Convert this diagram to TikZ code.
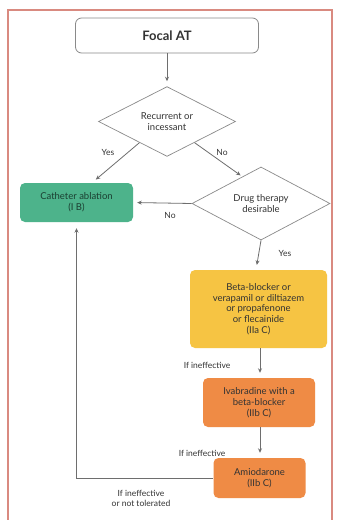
\documentclass[tikz,border=0pt]{standalone}
\usepackage{fontspec}
\setmainfont{Lato}
\usetikzlibrary{shapes.geometric,arrows.meta,calc}
\definecolor{frame}{HTML}{D98A80}
\definecolor{lineg}{HTML}{6E6E6E}
\definecolor{boxg}{HTML}{8A8A8A}
\definecolor{green}{HTML}{4DB38B}
\definecolor{yellow}{HTML}{F6C443}
\definecolor{orange}{HTML}{EF8B45}
\definecolor{ink}{HTML}{333333}
\begin{document}
\begin{tikzpicture}[x=1pt,y=-1pt,
  every node/.style={font=\fontsize{9.5}{10.8}\selectfont, text=ink, align=center},
  startbox/.style={draw=boxg, line width=0.8pt, rounded corners=6pt, fill=white,
    minimum width=183pt, minimum height=35pt, inner sep=0pt,
    font=\fontsize{13}{15}\selectfont\bfseries},
  decision/.style={diamond, draw=boxg, line width=0.7pt, fill=white, inner sep=0pt},
  colbox/.style={rounded corners=5pt, inner sep=0pt},
  lab/.style={font=\fontsize{8.5}{10}\selectfont},
  flow/.style={draw=lineg, line width=0.8pt, -{Stealth[length=4.5pt,width=4pt]}, shorten >=5pt},
  plain/.style={draw=lineg, line width=0.8pt}
]
\useasboundingbox (0,0) rectangle (339,520);
\fill[white] (0,0) rectangle (339,520);
% outer frame, open at the bottom edge
\draw[frame, line width=1.3pt] (8,525) -- (8,10) -- (332,10) -- (332,525);

% nodes
\node[startbox] (focal) at (167,35.5) {Focal AT};
\node[decision, minimum width=137pt, minimum height=63pt] (d1) at (167,121.5)
  {Recurrent or\\incessant};
\node[colbox, fill=green, minimum width=113pt, minimum height=39pt, text=green!35!black]
  (cath) at (76.5,202.5) {Catheter ablation\\(I B)};
\node[decision, minimum width=138pt, minimum height=63pt] (d2) at (261,203.5)
  {Drug therapy\\desirable};
\node[colbox, fill=yellow, minimum width=137pt, minimum height=78pt] (bb) at (258.5,309)
  {Beta-blocker or\\verapamil or diltiazem\\or propafenone\\or flecainide\\(IIa C)};
\node[colbox, fill=orange, minimum width=112pt, minimum height=49pt] (iva) at (259,402.5)
  {Ivabradine with a\\beta-blocker\\(IIb C)};
\node[colbox, fill=orange, minimum width=92pt, minimum height=40pt] (amio) at (259.5,478)
  {Amiodarone\\(IIb C)};

% connectors
\draw[flow] (focal.south) -- (d1.north);
\draw[flow, shorten <=0pt] ($(d1.west)!0.6!(d1.south)$) -- ([xshift=15.5pt]cath.north);
\draw[flow, shorten >=2pt] ($(d1.east)!0.6!(d1.south)$) -- ($(d2.north)!0.27!(d2.west)$);
\draw[flow, shorten >=4pt] (d2.west) -- (cath.east);
\draw[flow] (d2.south) -- ([xshift=-2.5pt]bb.north);
\draw[flow] ([xshift=1.5pt]bb.south) -- ([xshift=1pt]iva.north);
\draw[flow] ([xshift=1pt]iva.south) -- ([xshift=0.5pt]amio.north);
\draw[flow, shorten >=6pt] (amio.west) -| (cath.south);

% labels
\node[lab] (yes1) at (108,152) {Yes};
\node[lab] (no1) at (222,152) {No};
\node[lab] (no2) at (170,215) {No};
\node[lab] (yes2) at (285,253) {Yes};
\node[lab, anchor=east] (ie1) at (234,365) {If ineffective};
\node[lab, anchor=east] (ie2) at (229,453) {If ineffective};
\node[lab] (ie3) at (141,498) {If ineffective\\or not tolerated};
\end{tikzpicture}
\end{document}
